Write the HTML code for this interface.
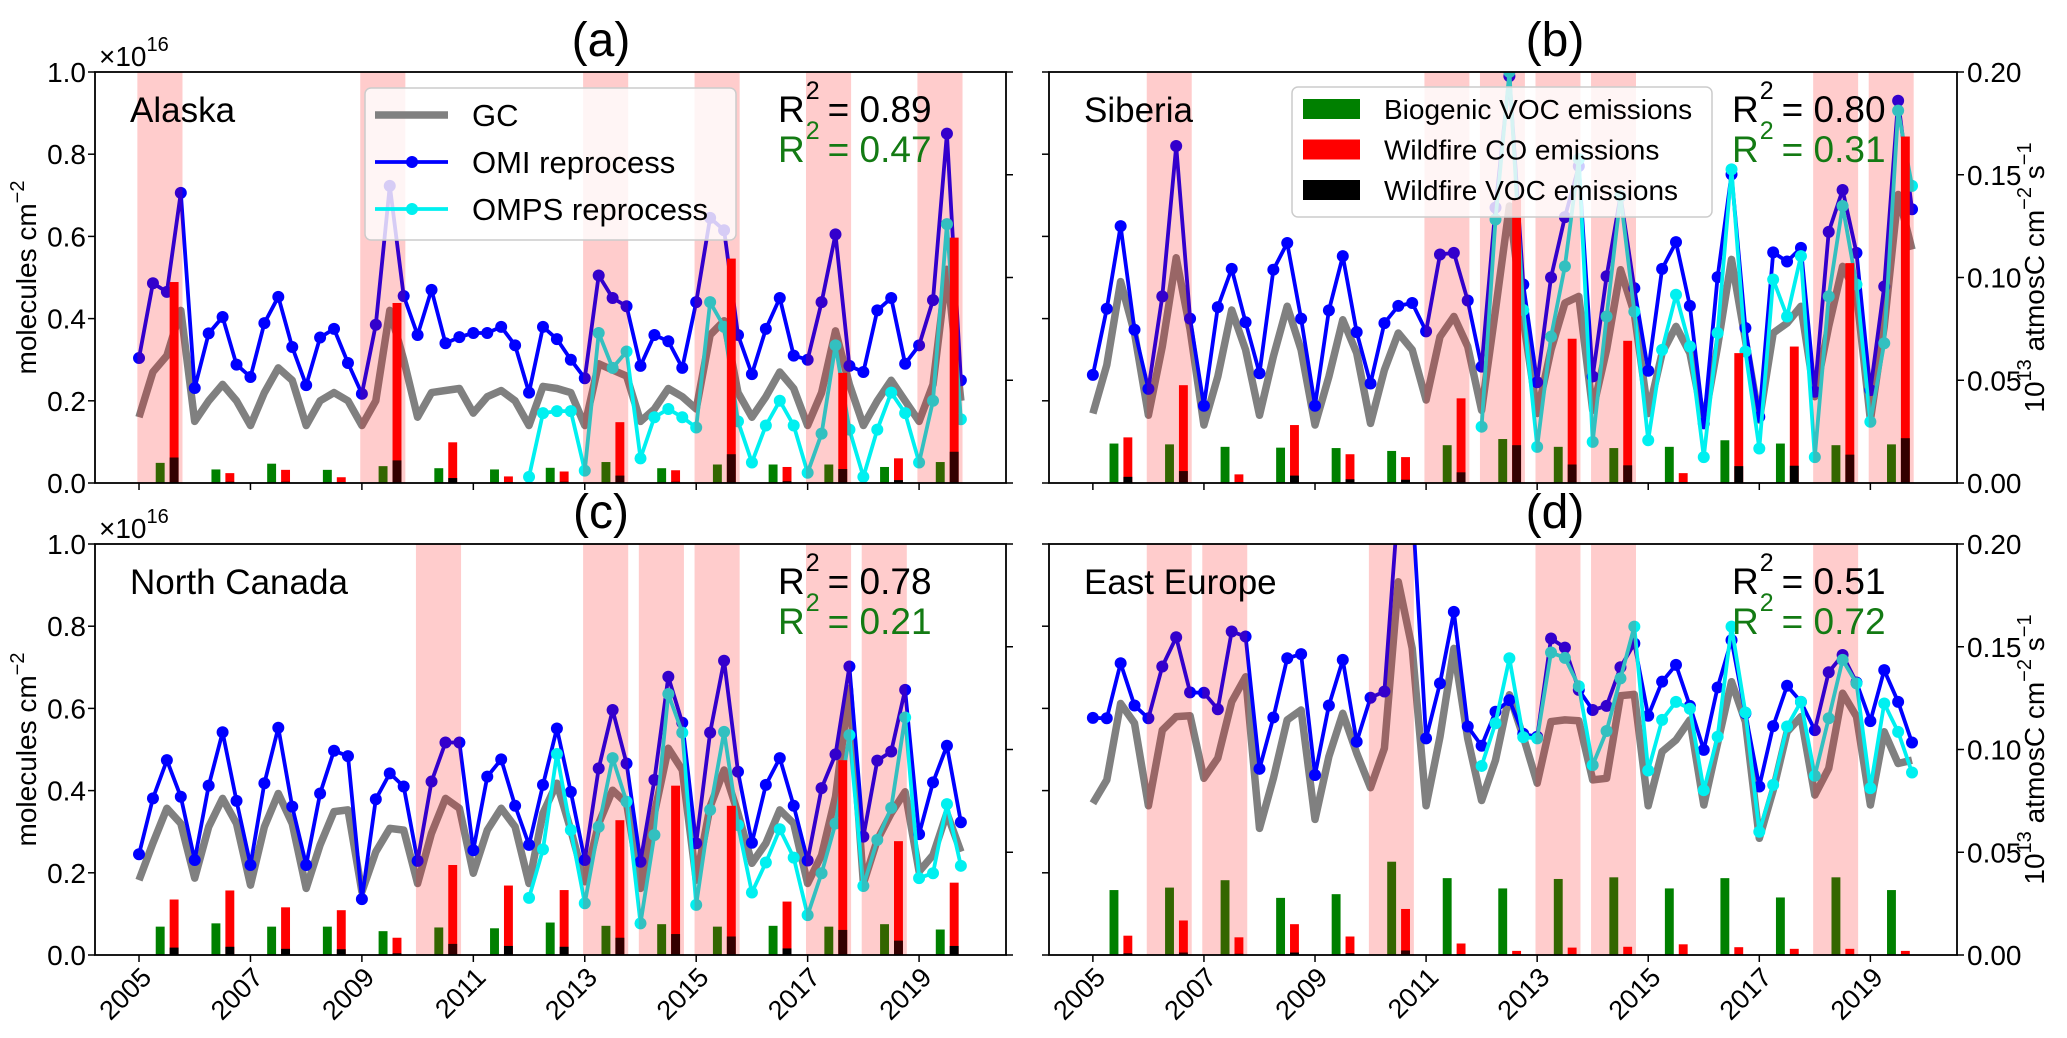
<!DOCTYPE html>
<html><head><meta charset="utf-8"><style>
html,body{margin:0;padding:0;background:#fff;}
svg{display:block;font-family:"Liberation Sans",Arial,sans-serif;}
</style></head><body>
<svg id="fig" width="2067" height="1038" viewBox="0 0 2067 1038" xmlns="http://www.w3.org/2000/svg"></svg>
<script>
// ---------- data ----------
const years = [2005,2006,2007,2008,2009,2010,2011,2012,2013,2014,2015,2016,2017,2018,2019];
const xTickLabels = ["2005","2007","2009","2011","2013","2015","2017","2019"];
const leftTicks = [0.0,0.2,0.4,0.6,0.8,1.0];
const rightTicks = [0.00,0.05,0.10,0.15,0.20];
const ompsStartIndex = 28;

const alaskaGC = [0.16,0.27,0.31,0.42,0.15,0.20,0.24,0.20,0.14,0.22,0.28,0.25,0.14,0.20,0.22,0.20,0.14,0.20,0.42,0.30,0.16,0.22,0.225,0.23,0.17,0.21,0.225,0.20,0.14,0.235,0.23,0.22,0.14,0.29,0.275,0.26,0.15,0.18,0.23,0.21,0.18,0.36,0.395,0.22,0.16,0.21,0.27,0.23,0.14,0.22,0.37,0.24,0.14,0.20,0.25,0.20,0.15,0.24,0.52,0.20];
const alaskaOMI = [0.304,0.486,0.465,0.706,0.231,0.364,0.404,0.288,0.258,0.389,0.453,0.331,0.238,0.354,0.375,0.292,0.217,0.385,0.723,0.455,0.36,0.47,0.34,0.355,0.365,0.365,0.38,0.335,0.22,0.38,0.35,0.30,0.255,0.505,0.45,0.43,0.285,0.36,0.345,0.28,0.44,0.645,0.615,0.36,0.265,0.375,0.45,0.31,0.30,0.44,0.605,0.285,0.27,0.42,0.45,0.29,0.335,0.445,0.85,0.25];
const alaskaOMPS = [0.015,0.17,0.175,0.175,0.03,0.365,0.28,0.32,0.06,0.16,0.18,0.16,0.135,0.44,0.38,0.15,0.05,0.14,0.20,0.14,0.025,0.12,0.335,0.13,0.015,0.13,0.22,0.17,0.05,0.20,0.63,0.155];
const alaskaBVOC = [.0098,.0066,.0094,.0064,.0082,.0072,.0066,.0074,.0102,.0072,.009,.009,.009,.0078,.0102];
const alaskaFireCO = [.0978,.0048,.0064,.0028,.0876,.0198,.0032,.0056,.0296,.0062,.1092,.0078,.0536,.012,.1194];
const alaskaFireVOC = [.0124,.0006,.0006,.0004,.011,.0024,.0004,.0006,.0036,.0006,.014,.0008,.0068,.0014,.0152];
const alaskaFireYears = [2005,2009,2013,2015,2017,2019];

const siberiaGC = [0.169,0.287,0.49,0.365,0.165,0.332,0.548,0.373,0.141,0.259,0.421,0.324,0.165,0.308,0.43,0.324,0.141,0.259,0.397,0.316,0.145,0.275,0.365,0.324,0.202,0.356,0.405,0.332,0.177,0.421,0.674,0.397,0.169,0.324,0.438,0.454,0.177,0.324,0.519,0.413,0.169,0.316,0.381,0.316,0.145,0.332,0.544,0.348,0.153,0.365,0.389,0.43,0.21,0.381,0.527,0.462,0.153,0.381,0.702,0.568];
const siberiaOMI = [0.263,0.424,0.625,0.373,0.229,0.454,0.82,0.40,0.188,0.428,0.521,0.391,0.267,0.519,0.584,0.40,0.188,0.42,0.552,0.367,0.242,0.389,0.431,0.438,0.369,0.556,0.56,0.444,0.283,0.67,0.99,0.483,0.245,0.50,0.647,0.771,0.259,0.503,0.698,0.474,0.273,0.521,0.586,0.431,0.145,0.501,0.751,0.377,0.161,0.561,0.539,0.572,0.222,0.611,0.713,0.56,0.226,0.478,0.93,0.666];
const siberiaOMPS = [0.137,0.641,1.0,0.421,0.088,0.356,0.527,0.788,0.10,0.405,0.698,0.417,0.104,0.324,0.458,0.332,0.063,0.365,0.763,0.32,0.084,0.495,0.405,0.552,0.063,0.454,0.674,0.483,0.149,0.34,0.906,0.723];
const siberiaBVOC = [.0192,.0188,.0176,.0172,.017,.0156,.0184,.0214,.0176,.017,.0176,.0208,.0192,.0184,.0188];
const siberiaFireCO = [.0222,.0476,.0042,.0282,.014,.0126,.0412,.1388,.0702,.0692,.0048,.0632,.0664,.107,.1686];
const siberiaFireVOC = [.003,.0058,.0004,.0036,.0018,.0016,.0052,.0184,.009,.0086,.0004,.0082,.0084,.0138,.0218];
const siberiaFireYears = [2006,2011,2012,2013,2014,2018,2019];

const canadaGC = [0.182,0.272,0.357,0.32,0.187,0.312,0.381,0.32,0.17,0.312,0.393,0.32,0.162,0.268,0.349,0.353,0.154,0.251,0.308,0.304,0.174,0.296,0.381,0.357,0.199,0.304,0.357,0.312,0.174,0.345,0.418,0.304,0.178,0.32,0.401,0.369,0.162,0.345,0.503,0.45,0.182,0.361,0.45,0.345,0.223,0.272,0.353,0.32,0.174,0.243,0.385,0.649,0.174,0.28,0.345,0.397,0.203,0.243,0.345,0.251];
const canadaOMI = [0.245,0.381,0.474,0.385,0.231,0.412,0.542,0.375,0.219,0.418,0.553,0.361,0.219,0.393,0.497,0.484,0.136,0.379,0.442,0.41,0.229,0.422,0.517,0.517,0.255,0.434,0.476,0.363,0.268,0.414,0.551,0.397,0.231,0.454,0.596,0.466,0.227,0.426,0.677,0.565,0.272,0.541,0.716,0.446,0.273,0.414,0.479,0.363,0.23,0.406,0.488,0.702,0.288,0.473,0.495,0.645,0.294,0.42,0.509,0.323];
const canadaOMPS = [0.139,0.257,0.489,0.304,0.126,0.312,0.479,0.373,0.077,0.292,0.635,0.541,0.122,0.353,0.543,0.316,0.152,0.225,0.306,0.237,0.097,0.199,0.32,0.535,0.168,0.28,0.358,0.578,0.187,0.199,0.367,0.217];
const canadaBVOC = [.0138,.0154,.0138,.0138,.0116,.0134,.013,.0158,.0142,.015,.0138,.0142,.0138,.015,.0124];
const canadaFireCO = [.027,.0314,.0232,.0218,.0084,.0438,.0338,.0316,.0656,.0824,.0726,.026,.0948,.0554,.0352];
const canadaFireVOC = [.0036,.004,.003,.0028,.0008,.0054,.0044,.004,.0084,.0102,.009,.0032,.0122,.007,.0044];
const canadaFireYears = [2010,2013,2014,2015,2017,2018];

const europeGC = [0.369,0.426,0.612,0.564,0.363,0.547,0.58,0.582,0.43,0.479,0.616,0.677,0.308,0.43,0.572,0.596,0.33,0.483,0.588,0.491,0.407,0.503,0.908,0.746,0.363,0.531,0.746,0.527,0.376,0.474,0.633,0.531,0.418,0.568,0.572,0.57,0.426,0.43,0.631,0.634,0.363,0.495,0.523,0.572,0.365,0.515,0.665,0.568,0.284,0.401,0.543,0.58,0.389,0.454,0.637,0.58,0.365,0.543,0.466,0.474];
const europeOMI = [0.577,0.576,0.71,0.607,0.576,0.702,0.773,0.639,0.638,0.598,0.787,0.775,0.453,0.578,0.722,0.732,0.438,0.607,0.718,0.519,0.626,0.641,1.1,1.1,0.527,0.661,0.835,0.556,0.509,0.592,0.62,0.538,0.531,0.77,0.748,0.645,0.596,0.606,0.70,0.758,0.582,0.665,0.706,0.606,0.499,0.651,0.766,0.588,0.41,0.557,0.655,0.616,0.547,0.688,0.73,0.663,0.569,0.693,0.616,0.517];
const europeOMPS = [0.46,0.564,0.722,0.53,0.527,0.736,0.723,0.654,0.462,0.545,0.673,0.799,0.449,0.572,0.616,0.599,0.401,0.531,0.799,0.59,0.30,0.414,0.556,0.616,0.436,0.576,0.718,0.661,0.406,0.612,0.543,0.444];
const europeBVOC = [.0316,.0328,.0364,.0278,.0296,.0454,.0374,.0324,.037,.0378,.0324,.0374,.028,.0378,.0316];
const europeFireCO = [.0094,.0168,.0086,.015,.009,.0224,.0056,.002,.0036,.004,.0052,.0038,.003,.003,.002];
const europeFireVOC = [.0008,.0012,.0006,.0012,.0008,.0022,.0004,.0002,.0002,.0002,.0002,.0002,.0002,.0002,.0002];
const europeFireYears = [2006,2007,2010,2013,2014,2018];

const panels = [
 {id:'a', region:'Alaska', r2a:'0.89', r2b:'0.47', gc:alaskaGC, omi:alaskaOMI, omps:alaskaOMPS, bvoc:alaskaBVOC, fco:alaskaFireCO, fvoc:alaskaFireVOC, fire:alaskaFireYears, x0:95, x1:1006, y0:72, y1:483, leftLab:true, rightLab:false, xLab:false},
 {id:'b', region:'Siberia', r2a:'0.80', r2b:'0.31', gc:siberiaGC, omi:siberiaOMI, omps:siberiaOMPS, bvoc:siberiaBVOC, fco:siberiaFireCO, fvoc:siberiaFireVOC, fire:siberiaFireYears, x0:1049, x1:1957, y0:72, y1:483, leftLab:false, rightLab:true, xLab:false},
 {id:'c', region:'North Canada', r2a:'0.78', r2b:'0.21', gc:canadaGC, omi:canadaOMI, omps:canadaOMPS, bvoc:canadaBVOC, fco:canadaFireCO, fvoc:canadaFireVOC, fire:canadaFireYears, x0:95, x1:1006, y0:544, y1:955, leftLab:true, rightLab:false, xLab:true},
 {id:'d', region:'East Europe', r2a:'0.51', r2b:'0.72', gc:europeGC, omi:europeOMI, omps:europeOMPS, bvoc:europeBVOC, fco:europeFireCO, fvoc:europeFireVOC, fire:europeFireYears, x0:1049, x1:1957, y0:544, y1:955, leftLab:false, rightLab:true, xLab:true}
];

const NS = 'http://www.w3.org/2000/svg';
const fig = document.getElementById('fig');
function mk(tag, attrs, parent){ const e=document.createElementNS(NS,tag); for(const k in attrs) e.setAttribute(k,attrs[k]); (parent||fig).appendChild(e); return e; }
const XMIN=2004.21, XMAX=2020.56;

panels.forEach(p=>{
  const g = mk('g',{});
  
  
  const clipId='clip'+p.id;
  const cp = mk('clipPath',{id:clipId},g); mk('rect',{x:p.x0,y:p.y0,width:p.x1-p.x0,height:p.y1-p.y0},cp);
  const sx = t => p.x0 + (t-XMIN)/(XMAX-XMIN)*(p.x1-p.x0);
  const syL = v => p.y1 - v/1.0*(p.y1-p.y0);
  const syR = v => p.y1 - v/0.2*(p.y1-p.y0);
  const tOf = k => 2005 + k*0.25;
  const plot = mk('g',{'clip-path':'url(#'+clipId+')'},g);

  function line(arr, start, color, w, name, markers){
    const pts = arr.map((v,i)=>sx(tOf(i+start)).toFixed(1)+','+syL(v).toFixed(1)).join(' ');
    const pl = mk('polyline',{points:pts,fill:'none',stroke:color,'stroke-width':w,'stroke-linejoin':'round'},plot);
    
    
    if(markers){ arr.forEach((v,i)=>{ const c=mk('circle',{cx:sx(tOf(i+start)),cy:syL(v),r:6,fill:color},plot);
      
       }); }
  }
  line(p.gc,0,'#808080',7.5,'gc-line',false);
  line(p.omi,0,'#0000ff',3.8,'omi-line',true);
  line(p.omps,ompsStartIndex,'#00f0f0',3.8,'omps-line',true);

  const bw = 0.16;
  years.forEach((y,i)=>{
    const w = sx(bw)-sx(0);
    const bx = sx(y+0.38)-w/2, rx = sx(y+0.63)-w/2;
    let r = mk('rect',{x:bx,y:syR(p.bvoc[i]),width:w,height:p.y1-syR(p.bvoc[i]),fill:'#008000'},plot);
    
    
    r = mk('rect',{x:rx,y:syR(p.fco[i]),width:w,height:p.y1-syR(p.fco[i]),fill:'#ff0000'},plot);
    
    
    r = mk('rect',{x:rx,y:syR(p.fvoc[i]),width:w,height:p.y1-syR(p.fvoc[i]),fill:'#000000'},plot);
    
    
  });
  p.fire.forEach(y=>{
    const s = mk('rect',{x:sx(y-0.03),y:p.y0,width:sx(y+0.78)-sx(y-0.03),height:p.y1-p.y0,fill:'rgba(255,0,0,0.2)'},plot);
    
    
  });

  const fr = mk('rect',{x:p.x0,y:p.y0,width:p.x1-p.x0,height:p.y1-p.y0,fill:'none',stroke:'#000','stroke-width':1.8},g);
  
  
  leftTicks.forEach(v=>{
    mk('line',{x1:p.x0-7,x2:p.x0,y1:syL(v),y2:syL(v),stroke:'#000','stroke-width':1.5},g);
    if(p.leftLab){ const t=mk('text',{x:p.x0-9,y:syL(v)+10,'text-anchor':'end','font-size':28},g); t.textContent=v.toFixed(1);
      
       }
  });
  rightTicks.forEach(v=>{
    mk('line',{x1:p.x1,x2:p.x1+7,y1:syR(v),y2:syR(v),stroke:'#000','stroke-width':1.5},g);
    if(p.rightLab){ const t=mk('text',{x:p.x1+10,y:syR(v)+10,'text-anchor':'start','font-size':28},g); t.textContent=v.toFixed(2);
      
       }
  });
  xTickLabels.forEach(l=>{
    const x=sx(+l);
    mk('line',{x1:x,x2:x,y1:p.y1,y2:p.y1+7,stroke:'#000','stroke-width':1.5},g);
    if(p.xLab){ const ax=x+14, ay=p.y1+24;
      const t=mk('text',{x:ax,y:ay,'text-anchor':'end','font-size':27,transform:'rotate(-45 '+ax+' '+ay+')'},g); t.textContent=l;
      
       }
  });
  if(p.leftLab){
    const m=mk('text',{x:p.x0+4,y:p.y0-6,'font-size':28},g); m.innerHTML='×10<tspan dy="-15" font-size="20">16</tspan>';
    
    
    const cy=(p.y0+p.y1)/2;
    const yl=mk('text',{x:36,y:cy,'text-anchor':'middle','font-size':28,transform:'rotate(-90 36 '+cy+')'},g);
    yl.innerHTML='molecules cm<tspan dy="-12" font-size="20">−2</tspan>';
    
    
  }
  if(p.rightLab){
    const cy=(p.y0+p.y1)/2;
    const yl=mk('text',{x:2044,y:cy,'text-anchor':'middle','font-size':28,transform:'rotate(-90 2044 '+cy+')'},g);
    yl.innerHTML='10<tspan dy="-13" font-size="20">13</tspan><tspan dy="13"> atmosC cm</tspan><tspan dy="-13" font-size="20">−2</tspan><tspan dy="13"> s</tspan><tspan dy="-13" font-size="20">−1</tspan>';
    
    
  }
  const tt=mk('text',{x:p.x0+506,y:p.y0-16,'text-anchor':'middle','font-size':48},g); tt.textContent='('+p.id+')';
  
  
  const rg=mk('text',{x:p.x0+35,y:p.y0+50,'font-size':35},g); rg.textContent=p.region;
  
  
  const rx0 = p.x0+683;
  const r1=mk('text',{x:rx0,y:p.y0+50,'font-size':37,fill:'#000'},g);
  r1.innerHTML='R<tspan dx="1" dy="-23" font-size="25">2</tspan><tspan dx="8" dy="23">= '+p.r2a+'</tspan>';
  
  
  const r2=mk('text',{x:rx0,y:p.y0+90,'font-size':37,fill:'#137a13'},g);
  r2.innerHTML='R<tspan dx="1" dy="-23" font-size="25">2</tspan><tspan dx="8" dy="23">= '+p.r2b+'</tspan>';
  
  
});

(function(){
  const g=mk('g',{});  
  mk('rect',{x:365,y:88,width:371,height:152,rx:6,fill:'rgba(255,255,255,0.8)',stroke:'#ccc','stroke-width':1.5},g);
  const items=[['GC','#808080',7.5,false],['OMI reprocess','#0000ff',3.8,true],['OMPS reprocess','#00f0f0',3.8,true]];
  items.forEach((it,i)=>{
    const y=115+i*47;
    const e=mk('g',{},g);  
    mk('line',{x1:375,x2:448,y1:y,y2:y,stroke:it[1],'stroke-width':it[2]},e);
    if(it[3]) mk('circle',{cx:412,cy:y,r:6,fill:it[1]},e);
    const t=mk('text',{x:472,y:y+11,'font-size':31},e); t.textContent=it[0];
  });
})();
(function(){
  const g=mk('g',{});  
  mk('rect',{x:1292,y:87,width:420,height:130,rx:6,fill:'rgba(255,255,255,0.8)',stroke:'#ccc','stroke-width':1.5},g);
  const items=[['Biogenic VOC emissions','#008000'],['Wildfire CO emissions','#ff0000'],['Wildfire VOC emissions','#000000']];
  items.forEach((it,i)=>{
    const y=109+i*40.5;
    const e=mk('g',{},g);  
    mk('rect',{x:1303,y:y-10,width:57,height:20,fill:it[1]},e);
    const t=mk('text',{x:1384,y:y+10,'font-size':28},e); t.textContent=it[0];
  });
})();
</script>
</body></html>
